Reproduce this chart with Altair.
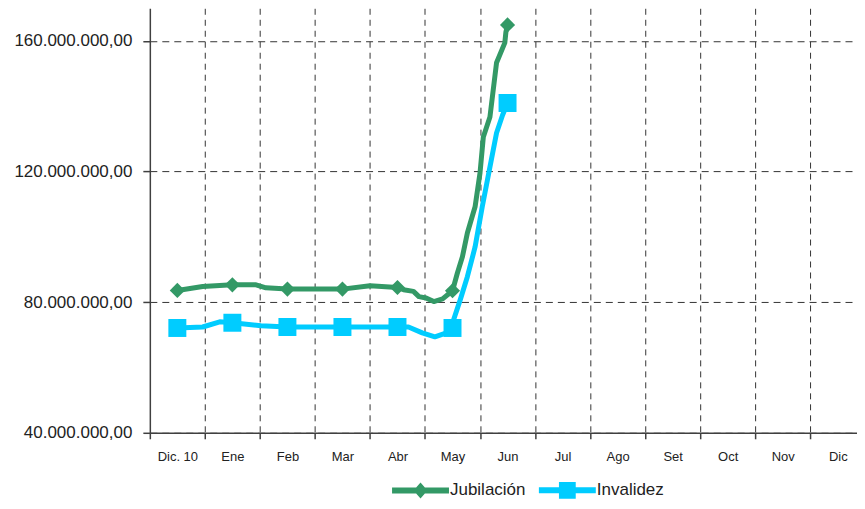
import json
import altair as alt
import pandas as pd

# ---- data ----
months = ["Dic. 10", "Ene", "Feb", "Mar", "Abr", "May", "Jun",
          "Jul", "Ago", "Set", "Oct", "Nov", "Dic"]
series = ["Jubilación", "Invalidez"]
colors = ["#339966", "#00CCFF"]

# positions are month indices (0 = Dic. 10); values in millions
jub_pos = [0.00, 0.46, 1.00, 1.43, 1.61, 2.00, 3.00, 3.50, 4.00, 4.11, 4.29,
           4.39, 4.52, 4.66, 4.82, 5.00, 5.09, 5.18, 5.27, 5.41, 5.50, 5.56,
           5.68, 5.80, 5.95, 5.97, 6.00]
jub_val = [83.6, 84.8, 85.3, 85.3, 84.4, 84.0, 84.0, 85.0, 84.5, 83.8, 83.3,
           81.7, 81.3, 80.2, 81.0, 83.5, 89.0, 93.9, 101.2, 109.2, 119.6, 130.6,
           136.7, 153.3, 159.4, 162.7, 164.9]

inv_pos = [0.00, 0.46, 0.77, 1.00, 1.52, 2.00, 3.00, 4.00, 4.20, 4.45, 4.68,
           4.89, 5.00, 5.02, 5.14, 5.27, 5.41, 5.54, 5.68, 5.80, 5.91, 6.00]
inv_val = [72.1, 72.4, 74.0, 73.7, 72.8, 72.4, 72.4, 72.4, 72.4, 70.6, 69.4,
           70.6, 72.1, 74.6, 80.7, 87.8, 96.9, 109.2, 121.4, 131.8, 137.3, 141.0]

y_ticks = [40_000_000, 80_000_000, 120_000_000, 160_000_000]
y_labels = ["40.000.000,00", "80.000.000,00", "120.000.000,00", "160.000.000,00"]

# ---- table ----
rows = []
for p, v in zip(jub_pos, jub_val):
    rows.append({"serie": series[0], "pos": p, "valor": v * 1_000_000})
for p, v in zip(inv_pos, inv_val):
    rows.append({"serie": series[1], "pos": p, "valor": v * 1_000_000})
df = pd.DataFrame(rows)

FONT = "Liberation Sans"

x_values = [-0.5] + [i / 2 for i in range(0, 25)]
x_label_expr = ("datum.value % 1 == 0 && datum.value >= 0 ? "
                + json.dumps(months) + "[datum.value] : ''")
y_label_expr = ""
for t, l in zip(y_ticks, y_labels):
    y_label_expr += f"datum.value == {t} ? '{l}' : "
y_label_expr += "''"

x_scale = alt.Scale(domain=[-0.5, 12.35], nice=False, zero=False)
y_scale = alt.Scale(domain=[40_000_000, 170_000_000], nice=False, zero=False)

x_enc = alt.X(
    "pos:Q", scale=x_scale, title=None,
    axis=alt.Axis(
        values=x_values, labelExpr=x_label_expr, labelOverlap=False,
        labelFlush=False, labelFont=FONT, labelFontSize=13, labelColor="#222222",
        labelPadding=12, tickSize=6, tickColor="#404040", tickWidth=1.5,
        tickOpacity={"condition": {"test": "datum.value % 1 != 0", "value": 1}, "value": 0},
        grid=True, gridColor="#333333", gridWidth=1, gridDash=[6, 5],
        gridOpacity={"condition": {"test": "datum.value % 1 != 0 && datum.value > 0", "value": 1}, "value": 0},
        domainColor="#404040", domainWidth=1.5,
    ),
)
y_enc = alt.Y(
    "valor:Q", scale=y_scale, title=None,
    axis=alt.Axis(
        values=y_ticks, labelExpr=y_label_expr, labelFont=FONT, labelFontSize=17,
        labelColor="#222222", labelPadding=11, tickSize=7, tickColor="#404040",
        tickWidth=1.5, grid=True, gridColor="#333333", gridWidth=1, gridDash=[7, 5],
        domainColor="#404040", domainWidth=1.5,
    ),
)
color_scale = alt.Scale(domain=series, range=colors)

base = alt.Chart(df)

# legend symbols: thick line with the marker on it (units of 7 px)
bar = "M-4.07,-0.43L4.07,-0.43L4.07,0.43L-4.07,0.43Z"
jub_sym = bar + " M-1,0L0,-1.15L1,0L0,1.15Z"
inv_sym = bar + " M-1.2,-1.2L1.2,-1.2L1.2,1.2L-1.2,1.2Z"

leg = dict(
    title=None, orient="none", direction="horizontal",
    legendX=241, legendY=474, padding=0,
    symbolSize=196, symbolStrokeWidth=0, symbolOffset=21.5,
    labelFont=FONT, labelFontSize=17, labelColor="#222222",
    labelOffset=21, columnPadding=11,
)

legend_layer = base.transform_filter("false").mark_point(filled=True, opacity=1).encode(
    x=x_enc, y=y_enc,
    color=alt.Color("serie:N", scale=color_scale, legend=alt.Legend(**leg)),
    shape=alt.Shape(
        "serie:N", scale=alt.Scale(domain=series, range=[jub_sym, inv_sym]),
        legend=alt.Legend(**leg),
    ),
)

lines = base.mark_line(strokeWidth=5, strokeJoin="round", strokeCap="round").encode(
    x=x_enc, y=y_enc,
    color=alt.Color("serie:N", scale=color_scale, legend=None),
    order=alt.Order("pos:Q"),
)

jub_pts = base.transform_filter(
    f"datum.serie == '{series[0]}' && datum.pos % 1 == 0"
).mark_point(filled=True, opacity=1, shape="diamond", size=230).encode(
    x=x_enc, y=y_enc,
    color=alt.Color("serie:N", scale=color_scale, legend=None),
)
inv_pts = base.transform_filter(
    f"datum.serie == '{series[1]}' && datum.pos % 1 == 0"
).mark_point(filled=True, opacity=1, shape="square", size=324).encode(
    x=x_enc, y=y_enc,
    color=alt.Color("serie:N", scale=color_scale, legend=None),
)

chart = alt.layer(legend_layer, lines, jub_pts, inv_pts).properties(
    width=708, height=425,
    padding={"left": 5, "top": 0, "right": 0, "bottom": 0},
    background="white",
).configure_view(strokeWidth=0)

chart.save("out.html", embed_options={"renderer": "svg", "actions": False})
